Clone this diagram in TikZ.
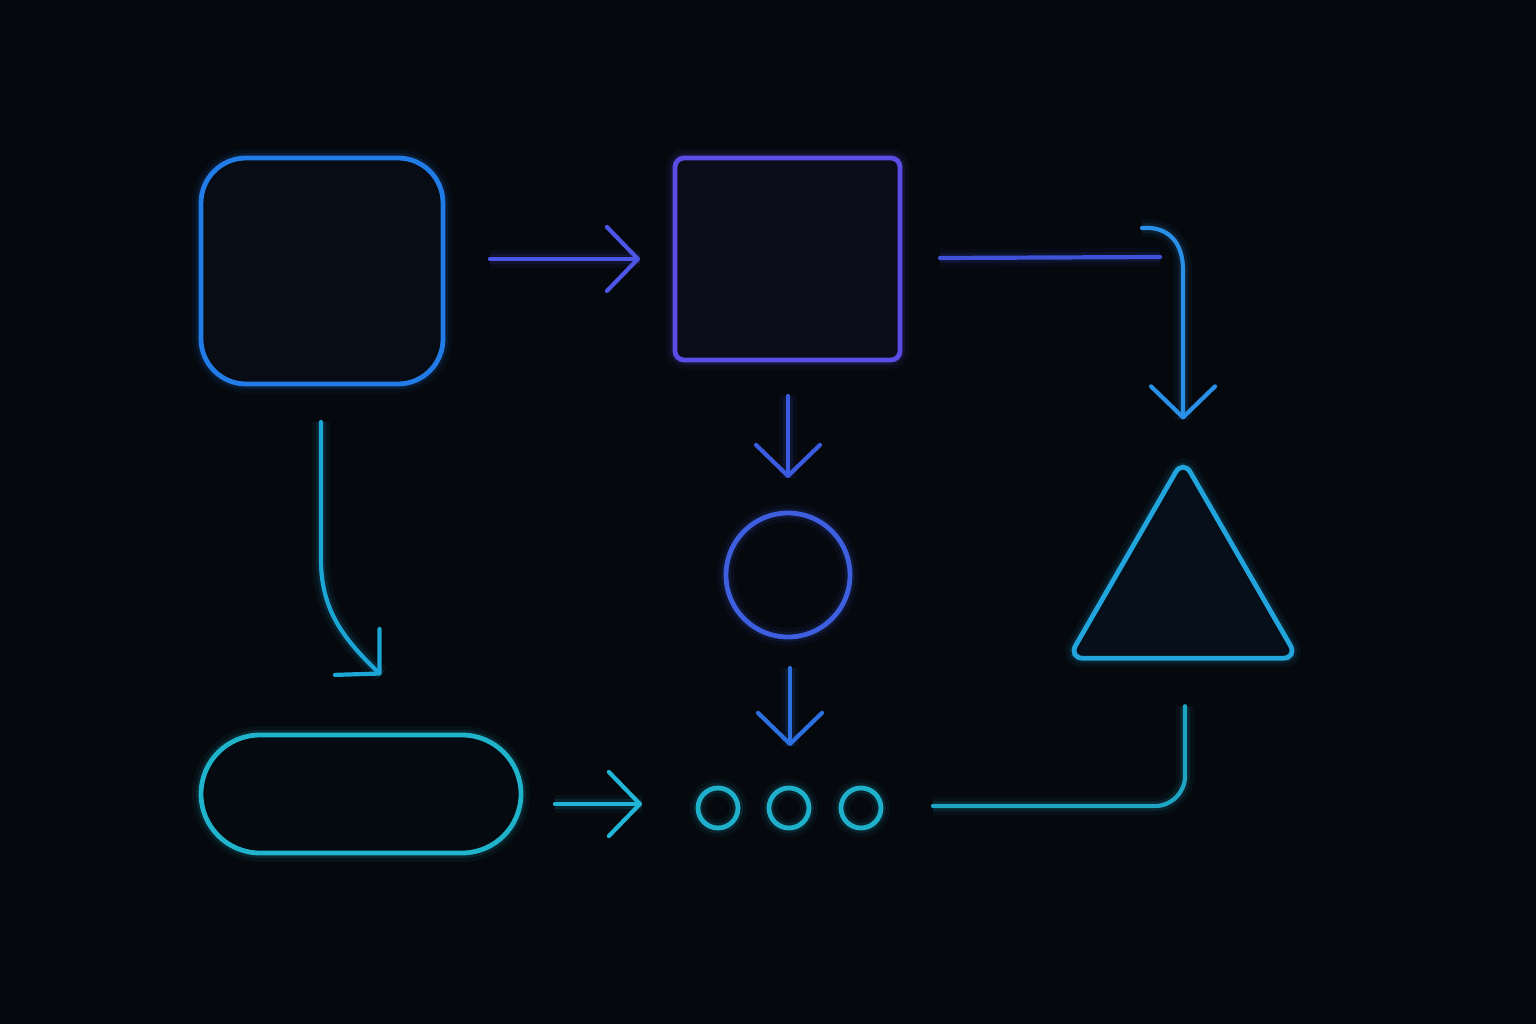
\documentclass[tikz,border=0pt]{standalone}
\usetikzlibrary{arrows.meta,calc,shapes.geometric}
\definecolor{bg}{HTML}{05080D}
\definecolor{colA}{HTML}{217CE8}
\definecolor{fillA}{HTML}{080C15}
\definecolor{colB}{HTML}{5A4DE6}
\definecolor{fillB}{HTML}{0C0D1A}
\definecolor{colAB}{HTML}{4D55E6}
\definecolor{colL}{HTML}{3D52D8}
\definecolor{colC}{HTML}{2A8FE6}
\definecolor{colT}{HTML}{22A5DC}
\definecolor{fillT}{HTML}{07101A}
\definecolor{colBC}{HTML}{3C5AE0}
\definecolor{colO}{HTML}{3D5FE0}
\definecolor{colOD}{HTML}{2C6FE0}
\definecolor{colAP}{HTML}{1BA6D6}
\definecolor{colP}{HTML}{1FB3CC}
\definecolor{fillP}{HTML}{060B12}
\definecolor{colPD}{HTML}{20B4D6}
\definecolor{colD}{HTML}{1FB0CC}
\definecolor{colDT}{HTML}{1FA5C4}
\tikzset{
  glowy/.style={preaction={draw=#1, line width=18pt, draw opacity=0.06, -},
                preaction={draw=#1, line width=10pt, draw opacity=0.12, -}},
  shapebox/.style={draw=#1, line width=4.8pt, glowy=#1, inner sep=0pt, outer sep=0pt},
  conn/.style={draw=#1, line width=4.2pt, line cap=round, line join=round, glowy=#1},
  tip/.style={-{Straight Barb[length=31pt,width=64pt,round]}}
}
\begin{document}
\begin{tikzpicture}[x=1pt,y=-1pt]
\fill[bg] (0,0) rectangle (1536,1024);
\useasboundingbox (0,0) rectangle (1536,1024);

% shapes
\node[shapebox=colA, fill=fillA, rounded corners=45pt, minimum width=242pt, minimum height=226pt] (a) at (322,271) {};
\node[shapebox=colB, fill=fillB, rounded corners=9pt, minimum width=225pt, minimum height=202pt] (b) at (787.5,259) {};
\node[shapebox=colO, circle, minimum size=124pt] (o) at (788,575) {};
\node[shapebox=colT, fill=fillT, regular polygon, regular polygon sides=3, minimum size=265pt, rounded corners=15pt] (t) at (1183,592) {};
\node[shapebox=colP, fill=fillP, rounded corners=59pt, minimum width=320pt, minimum height=118pt] (p) at (361,794) {};
\node[shapebox=colD, circle, minimum size=40pt] (d1) at (718,808) {};
\node[shapebox=colD, circle, minimum size=40pt] (d2) at (789,808) {};
\node[shapebox=colD, circle, minimum size=40pt] (d3) at (861,808) {};
\coordinate (hook) at (1142,228);

% connectors
\draw[conn=colAB, tip] ($(b.west)+(-185,0)$) -- ($(b.west)+(-35,0)$);
\draw[conn=colL] ($(b.east)+(40,-1)$) -- ($(b.east)+(260,-2)$);
\draw[conn=colC, tip] (hook) .. controls (1168,226) and (1183,242) .. (1183,270) -- ($(t.north)+(0,-40)$);
\draw[conn=colBC, tip] ($(b.south)+(0.5,36)$) -- ($(o.north)+(0,-35)$);
\draw[conn=colOD, tip] ($(o.south)+(2,31)$) -- ($(d2.north)+(1,-42)$);
\draw[conn=colAP, tip] ($(a.south)+(-1,38)$) -- (321,560) .. controls (321,612) and (346,641) .. (381,675);
\draw[conn=colPD, tip] ($(d1.west)+(-143,-4)$) -- ($(d1.west)+(-56,-4)$);
\draw[conn=colDT, rounded corners=30pt] ($(d3.east)+(52,-2)$) -- (1185,806) -- ($(t.south)+(2,48)$);
\end{tikzpicture}
\end{document}
